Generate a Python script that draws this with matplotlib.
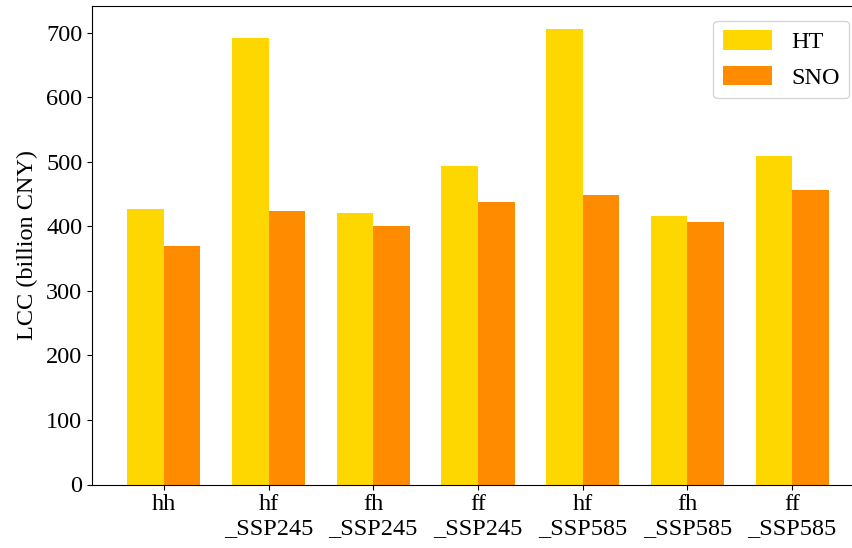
import numpy as np
import matplotlib.pyplot as plt

plt.rcParams['font.family'] = ['Liberation Serif', 'DejaVu Serif']
plt.rcParams['font.size'] = 17.5

scenarios = ['hh', 'hf\n_SSP245', 'fh\n_SSP245', 'ff\n_SSP245',
             'hf\n_SSP585', 'fh\n_SSP585', 'ff\n_SSP585']
lcc_ht = [427, 692, 421, 493, 706, 416, 509]
lcc_sno = [369, 424, 400, 438, 448, 406, 457]

x = np.arange(len(scenarios))
width = 0.35

fig = plt.figure(figsize=(8.53, 5.48), dpi=100)
# the axes run a little past the right edge of the figure
ax = fig.add_axes([92 / 853, 63.5 / 548, 772 / 853, 478.5 / 548])

ax.bar(x - width / 2, lcc_ht, width, color='gold', label='HT')
ax.bar(x + width / 2, lcc_sno, width, color='darkorange', label='SNO')

ax.set_xticks(x)
ax.set_xticklabels(scenarios)
ax.set_ylabel('LCC (billion CNY)', labelpad=6)
ax.spines['right'].set_visible(False)
ax.legend(loc='upper right', handlelength=2.0, handleheight=0.85,
          borderaxespad=0.6)

fig.savefig('out.png', dpi=100)
